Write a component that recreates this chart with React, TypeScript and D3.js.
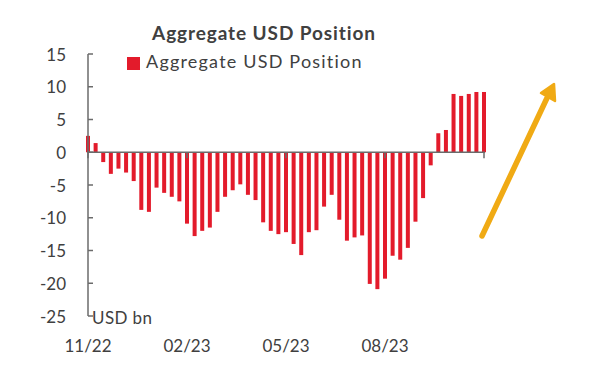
import React from "react";
import * as d3 from "d3";

const TITLE = "Aggregate USD Position";
const SERIES_NAME = "Aggregate USD Position";
const UNIT_LABEL = "USD bn";

// weekly observations, USD bn
const values: number[] = [
  2.5, 1.4, -1.5, -3.3, -2.5, -3.1, -4.4, -8.8, -9.1, -5.4, -6.2, -6.8, -7.5,
  -10.9, -12.8, -12.0, -11.5, -9.1, -6.8, -5.8, -4.9, -6.5, -7.3, -10.7, -12.0,
  -12.5, -12.2, -14.0, -15.7, -12.2, -11.9, -8.3, -6.5, -10.3, -13.5, -13.0,
  -12.7, -20.1, -20.9, -19.3, -15.8, -16.4, -14.6, -10.6, -7.0, -2.0, 2.9, 3.4,
  8.9, 8.6, 8.9, 9.2, 9.2,
];

const xTickIndex: number[] = [0, 13, 26, 39, 52];
const xTickLabels: string[] = ["11/22", "02/23", "05/23", "08/23", ""];
const yTicks: number[] = [15, 10, 5, 0, -5, -10, -15, -20, -25];

const W = 600;
const H = 380;
const FONT = "Lato, 'Open Sans', sans-serif";
const TEXT = "#404040";
const AXIS = "#6b6b6b";
const RED = "#e31b2b";
const ORANGE = "#f0aa14";

export default function App() {
  const x = d3
    .scalePoint<number>()
    .domain(d3.range(values.length))
    .range([88, 484]);
  const y = d3.scaleLinear().domain([-25, 15]).range([316, 54]);
  const barW = 4;
  const y0 = y(0);

  return (
    <svg
      width={W}
      height={H}
      style={{ position: "absolute", left: 0, top: 0, background: "#fff" }}
      fontFamily={FONT}
    >
      <text
        x={264}
        y={40}
        textAnchor="middle"
        fontSize={19}
        fontWeight={700}
        letterSpacing={0.9}
        fill={TEXT}
      >
        {TITLE}
      </text>
      <rect x={127} y={57} width={13} height={13} fill={RED} />
      <text x={146} y={68} fontSize={18} letterSpacing={1.2} fill={TEXT}>
        {SERIES_NAME}
      </text>

      {values.map((v, i) => (
        <rect
          key={i}
          x={(x(i) as number) - barW / 2}
          y={Math.min(y(v), y0)}
          width={barW}
          height={Math.abs(y(v) - y0)}
          fill={RED}
        />
      ))}

      {/* y axis */}
      <line x1={88} x2={88} y1={y(15)} y2={y(-25)} stroke={AXIS} strokeWidth={1.5} />
      {yTicks.map((t) => (
        <g key={t}>
          <line x1={88} x2={93} y1={y(t)} y2={y(t)} stroke={AXIS} strokeWidth={1.5} />
          <text
            x={66}
            y={y(t)}
            textAnchor="end"
            dominantBaseline="central"
            fontSize={17}
            fill={TEXT}
          >
            {t}
          </text>
        </g>
      ))}
      <text x={92} y={324} fontSize={17} letterSpacing={0.4} fill={TEXT}>
        {UNIT_LABEL}
      </text>

      {/* x axis */}
      <line x1={87} x2={485} y1={y0} y2={y0} stroke={AXIS} strokeWidth={1.5} />
      {xTickIndex.map((idx, k) => (
        <g key={idx}>
          <line
            x1={x(idx) as number}
            x2={x(idx) as number}
            y1={y0}
            y2={y0 + 6}
            stroke={AXIS}
            strokeWidth={1.5}
          />
          <text x={x(idx) as number} y={352} textAnchor="middle" fontSize={17} fill={TEXT}>
            {xTickLabels[k]}
          </text>
        </g>
      ))}

      {/* decorative arrow */}
      <line
        x1={482}
        y1={236}
        x2={547}
        y2={98}
        stroke={ORANGE}
        strokeWidth={5.5}
        strokeLinecap="round"
      />
      <path
        d="M554,84 L555,101 L541,93 Z"
        fill={ORANGE}
        stroke={ORANGE}
        strokeWidth={2.5}
        strokeLinejoin="round"
      />
    </svg>
  );
}
